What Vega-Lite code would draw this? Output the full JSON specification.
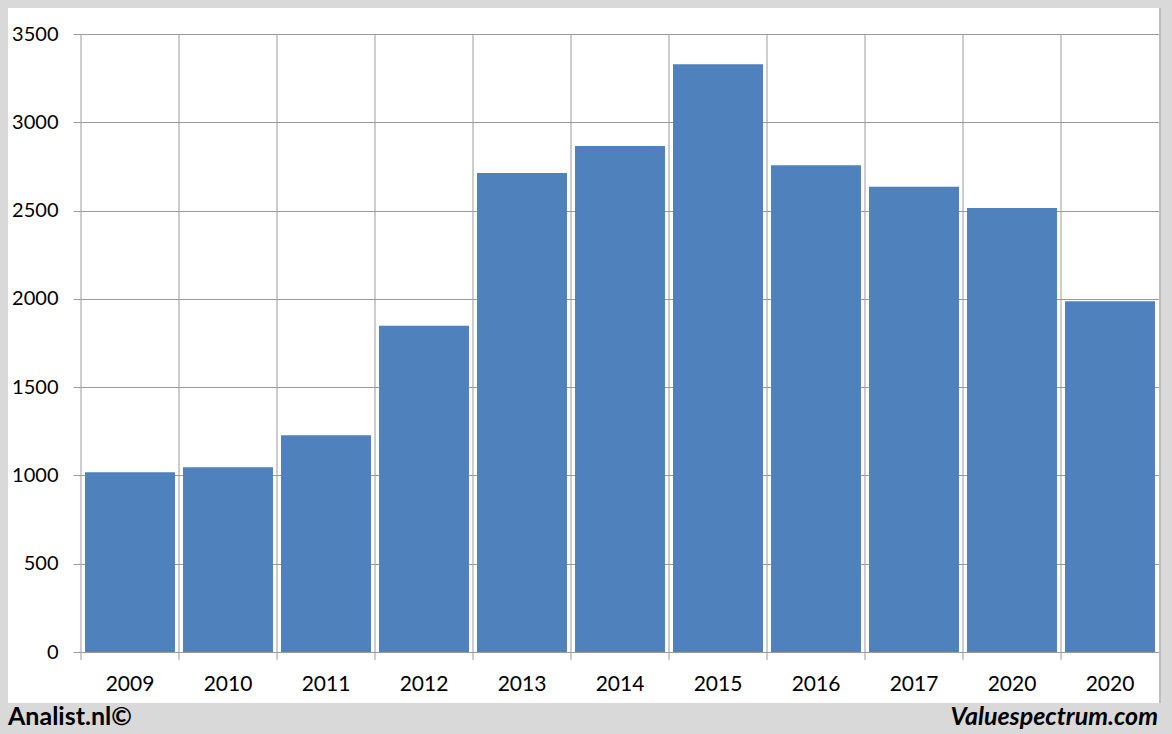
{
  "$schema": "https://vega.github.io/schema/vega-lite/v6.json",
  "background": "#d9d9d9",
  "padding": {"left": 8, "top": 8, "right": 11, "bottom": 0},
  "columns": 3,
  "spacing": 0,
  "bounds": "flush",
  "config": {"view": {"stroke": null}},
  "concat": [
    {
      "width": 73, "height": 695,
      "view": {"fill": "white", "stroke": null},
      "title": {"text": "Analist.nl©", "orient": "bottom", "anchor": "start", "frame": "group", "offset": 2,
                "baseline": "top", "font": "Lato", "fontSize": 25, "fontWeight": "bold", "color": "black"},
      "data": {"values": []},
      "mark": "point"
    },
    {
      "width": 1078, "height": 695,
      "view": {"fill": "white", "stroke": null},
      "data": {"values": [
        {"year": "2009", "value": 1018},
        {"year": "2010", "value": 1046},
        {"year": "2011", "value": 1228},
        {"year": "2012", "value": 1847},
        {"year": "2013", "value": 2713},
        {"year": "2014", "value": 2866},
        {"year": "2015", "value": 3328},
        {"year": "2016", "value": 2757},
        {"year": "2017", "value": 2635},
        {"year": "2020", "value": 2515},
        {"year": "2020\u200b", "value": 1986}
      ]},
      "layer": [
        {
          "mark": {"type": "rule", "color": "#9a9a9a", "strokeWidth": 1},
          "encoding": {
            "x": {"field": "year", "type": "ordinal", "sort": null, "bandPosition": 0,
                  "scale": {"paddingInner": 0, "paddingOuter": 0}},
            "y": {"datum": -45.3, "type": "quantitative"},
            "y2": {"datum": 3500}
          }
        },
        {
          "mark": {"type": "bar", "color": "#4f81bd", "width": {"band": 0.918}},
          "encoding": {
            "x": {"field": "year", "type": "ordinal", "sort": null,
                  "scale": {"paddingInner": 0, "paddingOuter": 0},
                  "axis": {"title": null, "orient": "bottom", "offset": -51, "domain": false, "grid": false,
                           "ticks": false, "labelAngle": 0, "labelAlign": "center",
                           "labelFont": "Lato", "labelFontSize": 21, "labelColor": "black",
                           "labelPadding": 32}},
            "y": {"field": "value", "type": "quantitative",
                  "scale": {"domain": [-288.83, 3647.25], "nice": false, "zero": false},
                  "axis": {"title": null, "values": [0, 500, 1000, 1500, 2000, 2500, 3000, 3500], "format": "d",
                           "domain": false, "grid": true, "gridColor": "#9a9a9a", "gridWidth": 1,
                           "ticks": true, "tickSize": 8, "tickColor": "#9a9a9a",
                           "labelFont": "Lato", "labelFontSize": 20, "labelColor": "black", "labelPadding": 15}}
          }
        }
      ]
    },
    {
      "width": 2, "height": 695,
      "view": {"fill": "#bdbdbd", "stroke": null},
      "title": {"text": "Valuespectrum.com", "orient": "bottom", "anchor": "end", "frame": "group", "offset": 2,
                "baseline": "top", "font": "Lato", "fontSize": 25, "fontWeight": "bold", "fontStyle": "italic", "color": "black", "dx": -3},
      "data": {"values": []},
      "mark": "point"
    },
    {
      "width": 73, "height": 31,
      "data": {"values": []},
      "mark": "point"
    },
    {
      "width": 1078, "height": 31,
      "data": {"values": []},
      "mark": "point"
    },
    {
      "width": 2, "height": 31,
      "data": {"values": []},
      "mark": "point"
    }
  ]
}
